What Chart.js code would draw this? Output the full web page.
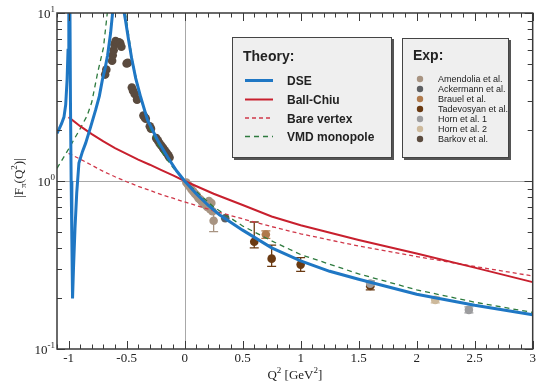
<!DOCTYPE html>
<html>
<head>
<meta charset="utf-8">
<script src="https://cdn.jsdelivr.net/npm/chart.js@4.4.1/dist/chart.umd.min.js"></script>
<style>
  html, body { margin: 0; padding: 0; background: #fff; }
</style>
</head>
<body>
<canvas id="chart" width="537" height="384"></canvas>
<script>
"use strict";

// theory curves (Q^2 in GeV^2, |F|)
const dseQ2 = [-1.1, -1.08, -1.06, -1.04, -1.025, -1.013, -1.005, -0.998, -0.994, -0.989,
  -0.984, -0.978, -0.972, -0.966, -0.958, -0.945, -0.93, -0.911, -0.88, -0.853,
  -0.81, -0.767, -0.735, -0.709, -0.685, -0.664, -0.638, -0.618, -0.6, -0.585,
  -0.565, -0.545, -0.526, -0.509, -0.483, -0.457, -0.422, -0.379, -0.32, -0.233,
  -0.147, -0.07, 0, 0.1, 0.2, 0.3, 0.5, 0.75, 1.0, 1.25, 1.5, 2.0, 2.5, 3.0];
const dseF = [1.92, 2.05, 2.2, 2.4, 2.85, 4.0, 6.0, 12, 40, 12,
  3.0, 1.0, 0.45, 0.2, 0.3, 0.52, 0.85, 1.28, 1.5, 1.68,
  2.1, 2.65, 3.2, 4.0, 4.7, 5.6, 7.6, 10.5, 16, 40,
  40, 14, 10.5, 9.0, 6.9, 5.4, 4.1, 3.16, 2.31, 1.75,
  1.39, 1.15, 1.0, 0.84, 0.72, 0.63, 0.51, 0.4, 0.335, 0.29, 0.26, 0.212, 0.182, 0.16];

const ballChiuQ2 = [-1.0, -0.9, -0.8, -0.7, -0.6, -0.5, -0.4, -0.3, -0.2, -0.1, 0, 0.25, 0.5, 0.75, 1.0, 1.5, 2.0, 2.5, 3.0];
const ballChiuF = [2.4, 2.12, 1.9, 1.72, 1.57, 1.45, 1.34, 1.25, 1.16, 1.08, 1.0, 0.84, 0.72, 0.615, 0.545, 0.445, 0.37, 0.305, 0.25];

const bareQ2 = [-1.0, -0.9, -0.8, -0.7, -0.6, -0.5, -0.4, -0.3, -0.2, -0.1, 0, 0.25, 0.5, 0.75, 1.0, 1.5, 2.0, 2.5, 3.0];
const bareF = [1.46, 1.35, 1.24, 1.14, 1.06, 0.99, 0.93, 0.88, 0.83, 0.79, 0.75, 0.665, 0.595, 0.535, 0.485, 0.41, 0.355, 0.31, 0.272];

const vmdQ2 = [-1.1, -1.0, -0.9, -0.84, -0.8, -0.75, -0.7, -0.67, -0.65, -0.62,
  -0.56, -0.53, -0.51, -0.48, -0.45, -0.4, -0.35, -0.3, -0.2, -0.1,
  0, 0.25, 0.5, 0.75, 1.0, 1.5, 2.0, 2.5, 3.0];
const vmdF = [1.19, 1.55, 2.05, 2.45, 2.95, 4.4, 6.2, 9.5, 13, 30,
  30, 14, 10, 7.2, 5.2, 3.6, 2.65, 2.05, 1.5, 1.2,
  1.0, 0.7, 0.54, 0.44, 0.365, 0.28, 0.225, 0.19, 0.165];

// experiments
const barkovQ2 = [-0.685, -0.675, -0.625, -0.62, -0.612, -0.605, -0.595, -0.585, -0.575, -0.565,
  -0.555, -0.545, -0.5, -0.49, -0.455, -0.445, -0.43, -0.41, -0.355, -0.345,
  -0.335, -0.3, -0.29, -0.245, -0.23, -0.215, -0.2, -0.185, -0.17, -0.155, -0.14, -0.13];
const barkovF = [4.3, 4.6, 5.2, 5.6, 6.0, 6.5, 6.8, 6.7, 6.6, 6.7,
  6.6, 6.3, 5.0, 5.05, 3.6, 3.45, 3.3, 3.05, 2.45, 2.4,
  2.35, 2.12, 2.05, 1.8, 1.74, 1.67, 1.62, 1.57, 1.52, 1.47, 1.42, 1.38];

const amendoliaQ2 = [0.015, 0.03, 0.045, 0.06, 0.075, 0.09, 0.105, 0.12, 0.135, 0.15, 0.165, 0.18, 0.195, 0.21, 0.22, 0.23, 0.24, 0.25];
const amendoliaF = [0.98, 0.95, 0.92, 0.89, 0.865, 0.84, 0.82, 0.79, 0.775, 0.75, 0.73, 0.72, 0.7, 0.76, 0.68, 0.74, 0.66, 0.58];
const amendoliaErr = [null, null, null, null, null, null, null, null, null, null, null, null, null, null, null, null, null, [0.5, 0.64]];

const ackermannQ2 = [0.35];
const ackermannF = [0.6];

const brauelQ2 = [0.7];
const brauelF = [0.48];
const brauelErr = [[0.455, 0.505]];

const tadevosyanQ2 = [0.6, 0.75, 1.0, 1.6];
const tadevosyanF = [0.435, 0.345, 0.318, 0.237];
const tadevosyanErr = [[0.4, 0.57], [0.31, 0.415], [0.29, 0.35], [0.225, 0.25]];

const horn1Q2 = [1.6, 2.45];
const horn1F = [0.245, 0.171];
const horn1Err = [[0.235, 0.255], [0.164, 0.178]];

const horn2Q2 = [2.16];
const horn2F = [0.196];
const horn2Err = [[0.188, 0.204]];

const xTickLabels = [-1, -0.5, 0, 0.5, 1, 1.5, 2, 2.5, 3];
const yTickExponents = [-1, 0, 1];

const theoryLabels = ["DSE", "Ball-Chiu", "Bare vertex", "VMD monopole"];
const expLabels = ["Amendolia et al.", "Ackermann et al.", "Brauel et al.", "Tadevosyan et al.",
  "Horn et al. 1", "Horn et al. 2", "Barkov et al."];

const colors = {
  dse: "#1f77c4",
  ballChiu: "#c8202e",
  bare: "#d0384a",
  vmd: "#2d7a3e",
  amendolia: "#a89482",
  ackermann: "#5d5f62",
  brauel: "#b07a4c",
  tadevosyan: "#6a3a12",
  horn1: "#9c9c9e",
  horn2: "#cdb99b",
  barkov: "#5a4a3e",
};

const zip = (xs, ys) => xs.map((x, i) => ({ x, y: ys[i] }));

const curve = (label, xs, ys, color, width, dash) => ({
  type: "line",
  label,
  data: zip(xs, ys),
  borderColor: color,
  borderWidth: width,
  borderDash: dash,
  pointRadius: 0,
  tension: 0,
  fill: false,
  order: 0,
});

const points = (label, xs, ys, color, order, errs) => ({
  type: "scatter",
  label,
  data: zip(xs, ys),
  backgroundColor: color,
  borderWidth: 0,
  pointRadius: 4.3,
  order,
  errs,
});

const serif = '"Liberation Serif", "DejaVu Serif", serif';
const sans = '"Liberation Sans", Arial, sans-serif';

/** parts: [text, size, dy] */
const drawRich = (ctx, parts, x, y, align) => {
  let w = 0;
  parts.forEach(([t, size]) => {
    ctx.font = `${size}px ${serif}`;
    w += ctx.measureText(t).width;
  });
  let cx = align === "right" ? x - w : align === "center" ? x - w / 2 : x;
  ctx.textAlign = "left";
  parts.forEach(([t, size, dy]) => {
    ctx.font = `${size}px ${serif}`;
    ctx.fillText(t, cx, y + dy);
    cx += ctx.measureText(t).width;
  });
};

const framePlugin = {
  id: "frame",
  beforeDatasetsDraw(chart) {
    const { ctx, chartArea: a, scales: { x, y } } = chart;
    ctx.save();

    // reference lines at Q^2 = 0 and |F| = 1
    ctx.strokeStyle = "#a8a8a8";
    ctx.lineWidth = 1;
    const x0 = Math.round(x.getPixelForValue(0)) + 0.5;
    const y1 = Math.round(y.getPixelForValue(1)) + 0.5;
    ctx.beginPath();
    ctx.moveTo(x0, a.top);
    ctx.lineTo(x0, a.bottom);
    ctx.moveTo(a.left, y1);
    ctx.lineTo(a.right, y1);
    ctx.stroke();

    // error bars
    chart.data.datasets.forEach((ds) => {
      if (!ds.errs) return;
      ctx.strokeStyle = ds.backgroundColor;
      ctx.lineWidth = 1.3;
      ds.errs.forEach((e, i) => {
        if (!e) return;
        const px = x.getPixelForValue(ds.data[i].x);
        const lo = y.getPixelForValue(e[0]);
        const hi = y.getPixelForValue(e[1]);
        ctx.beginPath();
        ctx.moveTo(px, lo);
        ctx.lineTo(px, hi);
        ctx.moveTo(px - 4.5, lo);
        ctx.lineTo(px + 4.5, lo);
        ctx.moveTo(px - 4.5, hi);
        ctx.lineTo(px + 4.5, hi);
        ctx.stroke();
      });
    });
    ctx.restore();
  },
  afterDatasetsDraw(chart) {
    const { ctx, chartArea: a, scales: { x, y } } = chart;
    ctx.save();

    // frame
    ctx.strokeStyle = "#3a3a3a";
    ctx.lineWidth = 1.5;
    ctx.strokeRect(a.left, a.top, a.right - a.left, a.bottom - a.top);

    // x ticks, every 0.1 with majors at 0.5
    ctx.lineWidth = 1;
    ctx.beginPath();
    for (let k = -11; k <= 30; k++) {
      const v = k / 10;
      const px = Math.round(x.getPixelForValue(v)) + 0.5;
      const len = k % 5 === 0 ? 8 : 4.5;
      ctx.moveTo(px, a.bottom);
      ctx.lineTo(px, a.bottom - len);
      ctx.moveTo(px, a.top);
      ctx.lineTo(px, a.top + len);
    }
    // y ticks, log minors
    [0.1, 1].forEach((d) => {
      for (let m = 1; m <= 10; m++) {
        const v = d * m;
        const py = Math.round(y.getPixelForValue(v)) + 0.5;
        const len = m === 1 || m === 10 ? 8 : 5;
        ctx.moveTo(a.left, py);
        ctx.lineTo(a.left + len, py);
        ctx.moveTo(a.right, py);
        ctx.lineTo(a.right - len, py);
      }
    });
    ctx.stroke();

    // tick labels
    ctx.fillStyle = "#222";
    ctx.textBaseline = "alphabetic";
    xTickLabels.forEach((v) => {
      drawRich(ctx, [[String(v), 13, 0]], x.getPixelForValue(v), a.bottom + 13, "center");
    });
    yTickExponents.forEach((e) => {
      const py = y.getPixelForValue(10 ** e);
      drawRich(ctx, [["10", 13, 0], [String(e), 9, -6]], 55, py + 5, "right");
    });

    // axis titles
    drawRich(ctx, [["Q", 13, 0], ["2", 9, -6], [" [GeV", 13, 0], ["2", 9, -6], ["]", 13, 0]],
      (a.left + a.right) / 2, a.bottom + 30, "center");
    ctx.translate(23, 178);
    ctx.rotate(-Math.PI / 2);
    drawRich(ctx, [["|F", 13, 0], ["π", 9, 3], ["(Q", 13, 0], ["2", 9, -6], [")|", 13, 0]], 0, 0, "center");
    ctx.restore();
  },
  afterDraw(chart) {
    const { ctx } = chart;
    ctx.save();

    const box = (bx, by, bw, bh) => {
      ctx.fillStyle = "#555";
      ctx.fillRect(bx + 2, by + 2, bw, bh);
      ctx.fillStyle = "#efefef";
      ctx.fillRect(bx, by, bw, bh);
      ctx.strokeStyle = "#444";
      ctx.lineWidth = 1;
      ctx.strokeRect(bx + 0.5, by + 0.5, bw - 1, bh - 1);
    };

    // theory legend
    box(232, 37, 160, 121);
    ctx.fillStyle = "#222";
    ctx.textAlign = "left";
    ctx.font = `bold 14px ${sans}`;
    ctx.fillText("Theory:", 243, 61);
    const theoryStyles = [
      [colors.dse, 3, []],
      [colors.ballChiu, 2, []],
      [colors.bare, 1.3, [4, 3]],
      [colors.vmd, 1.3, [5, 4]],
    ];
    const theoryY = [80.5, 99.5, 118, 136.5];
    theoryLabels.forEach((label, i) => {
      const [c, w, dash] = theoryStyles[i];
      ctx.strokeStyle = c;
      ctx.lineWidth = w;
      ctx.setLineDash(dash);
      ctx.beginPath();
      ctx.moveTo(245, theoryY[i]);
      ctx.lineTo(273, theoryY[i]);
      ctx.stroke();
      ctx.setLineDash([]);
      ctx.fillStyle = "#222";
      ctx.font = `bold 12px ${sans}`;
      ctx.fillText(label, 287, theoryY[i] + 4.5);
    });

    // experiment legend
    box(402, 38, 107, 120);
    ctx.fillStyle = "#222";
    ctx.font = `bold 14px ${sans}`;
    ctx.fillText("Exp:", 413, 60);
    const expColors = [colors.amendolia, colors.ackermann, colors.brauel, colors.tadevosyan,
      colors.horn1, colors.horn2, colors.barkov];
    expLabels.forEach((label, i) => {
      const ly = 79 + i * 10;
      ctx.fillStyle = expColors[i];
      ctx.beginPath();
      ctx.arc(420, ly, 3.2, 0, Math.PI * 2);
      ctx.fill();
      ctx.fillStyle = "#222";
      ctx.font = `9px ${sans}`;
      ctx.fillText(label, 438, ly + 3);
    });
    ctx.restore();
  },
};

const main = () => {
  const canvas = document.getElementById("chart");
  if (!(canvas instanceof HTMLCanvasElement)) throw new Error();

  new Chart(canvas, {
    type: "line",
    data: {
      datasets: [
        curve("DSE", dseQ2, dseF, colors.dse, 3, []),
        curve("Ball-Chiu", ballChiuQ2, ballChiuF, colors.ballChiu, 2, []),
        curve("Bare vertex", bareQ2, bareF, colors.bare, 1.3, [4, 3]),
        curve("VMD monopole", vmdQ2, vmdF, colors.vmd, 1.3, [5, 4]),
        points("Horn et al. 1", horn1Q2, horn1F, colors.horn1, 2, horn1Err),
        points("Horn et al. 2", horn2Q2, horn2F, colors.horn2, 3, horn2Err),
        points("Tadevosyan et al.", tadevosyanQ2, tadevosyanF, colors.tadevosyan, 4, tadevosyanErr),
        points("Brauel et al.", brauelQ2, brauelF, colors.brauel, 5, brauelErr),
        points("Ackermann et al.", ackermannQ2, ackermannF, colors.ackermann, 6, null),
        points("Amendolia et al.", amendoliaQ2, amendoliaF, colors.amendolia, 7, amendoliaErr),
        points("Barkov et al.", barkovQ2, barkovF, colors.barkov, 8, null),
      ],
    },
    options: {
      responsive: false,
      animation: false,
      layout: { padding: { left: 57, right: 4, top: 13, bottom: 35 } },
      plugins: { legend: { display: false }, tooltip: { enabled: false } },
      scales: {
        x: { type: "linear", min: -1.1, max: 3, display: false },
        y: { type: "logarithmic", min: 0.1, max: 10, display: false },
      },
    },
    plugins: [framePlugin],
  });
};

main();
</script>
</body>
</html>
